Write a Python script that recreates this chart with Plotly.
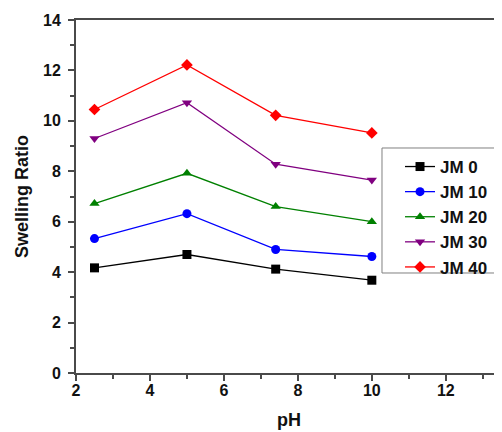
import plotly.graph_objects as go

ph = [2.5, 5.0, 7.4, 10.0]
series_names = ["JM 0", "JM 10", "JM 20", "JM 30", "JM 40"]
jm0 = [4.17, 4.70, 4.12, 3.68]
jm10 = [5.33, 6.32, 4.90, 4.62]
jm20 = [6.72, 7.92, 6.60, 6.00]
jm30 = [9.30, 10.72, 8.28, 7.65]
jm40 = [10.45, 12.22, 10.22, 9.52]
values = [jm0, jm10, jm20, jm30, jm40]
colors = ["#000000", "#0000ff", "#008000", "#800080", "#ff0000"]
symbols = ["square", "circle", "triangle-up", "triangle-down", "diamond"]

fig = go.Figure()
for name, vals, c, s in zip(series_names, values, colors, symbols):
    fig.add_trace(go.Scatter(
        x=ph, y=vals, name=name, mode="lines+markers",
        line=dict(color=c, width=1.3),
        marker=dict(symbol=s, size=9, color=c),
    ))

FONT = "Arial, Liberation Sans"
axis_common = dict(
    showline=True, linecolor="#4a4a4a", linewidth=2,
    ticks="outside", ticklen=6, tickwidth=2, tickcolor="#4a4a4a",
    showgrid=False, zeroline=False,
    tickfont=dict(size=16, color="#111111", family=FONT, weight="bold"),
    minor=dict(ticks="outside", ticklen=4, tickwidth=2, tickcolor="#4a4a4a", dtick=1),
)

fig.update_layout(
    width=494, height=424,
    margin=dict(l=68, r=0, t=12, b=59, autoexpand=False),
    paper_bgcolor="white", plot_bgcolor="white",
    font=dict(family=FONT, size=16, color="#111111", weight="bold"),
    xaxis=dict(range=[2, 13.52], dtick=2, tick0=2, mirror=True, ticklabelstandoff=-4,
               title=dict(text="pH", font=dict(size=18, weight="bold"), standoff=15),
               **axis_common),
    yaxis=dict(range=[0, 14], dtick=2, tick0=0, ticklabelstandoff=4,
               title=dict(text="Swelling Ratio", font=dict(size=18, weight="bold"), standoff=10),
               **axis_common),
    legend=dict(x=0.7606, y=0.6346, xanchor="left", yanchor="top",
                borderwidth=0, bgcolor="rgba(0,0,0,0)",
                font=dict(size=17, weight="bold", color="#111111"),
                itemwidth=30),
    shapes=[dict(type="rect", xref="paper", yref="paper",
                 x0=0.7183, x1=1.05, y0=0.2833, y1=0.6374,
                 line=dict(color="#808080", width=1), fillcolor="white", layer="below")],
    showlegend=True,
)

fig.write_html("out.html")
